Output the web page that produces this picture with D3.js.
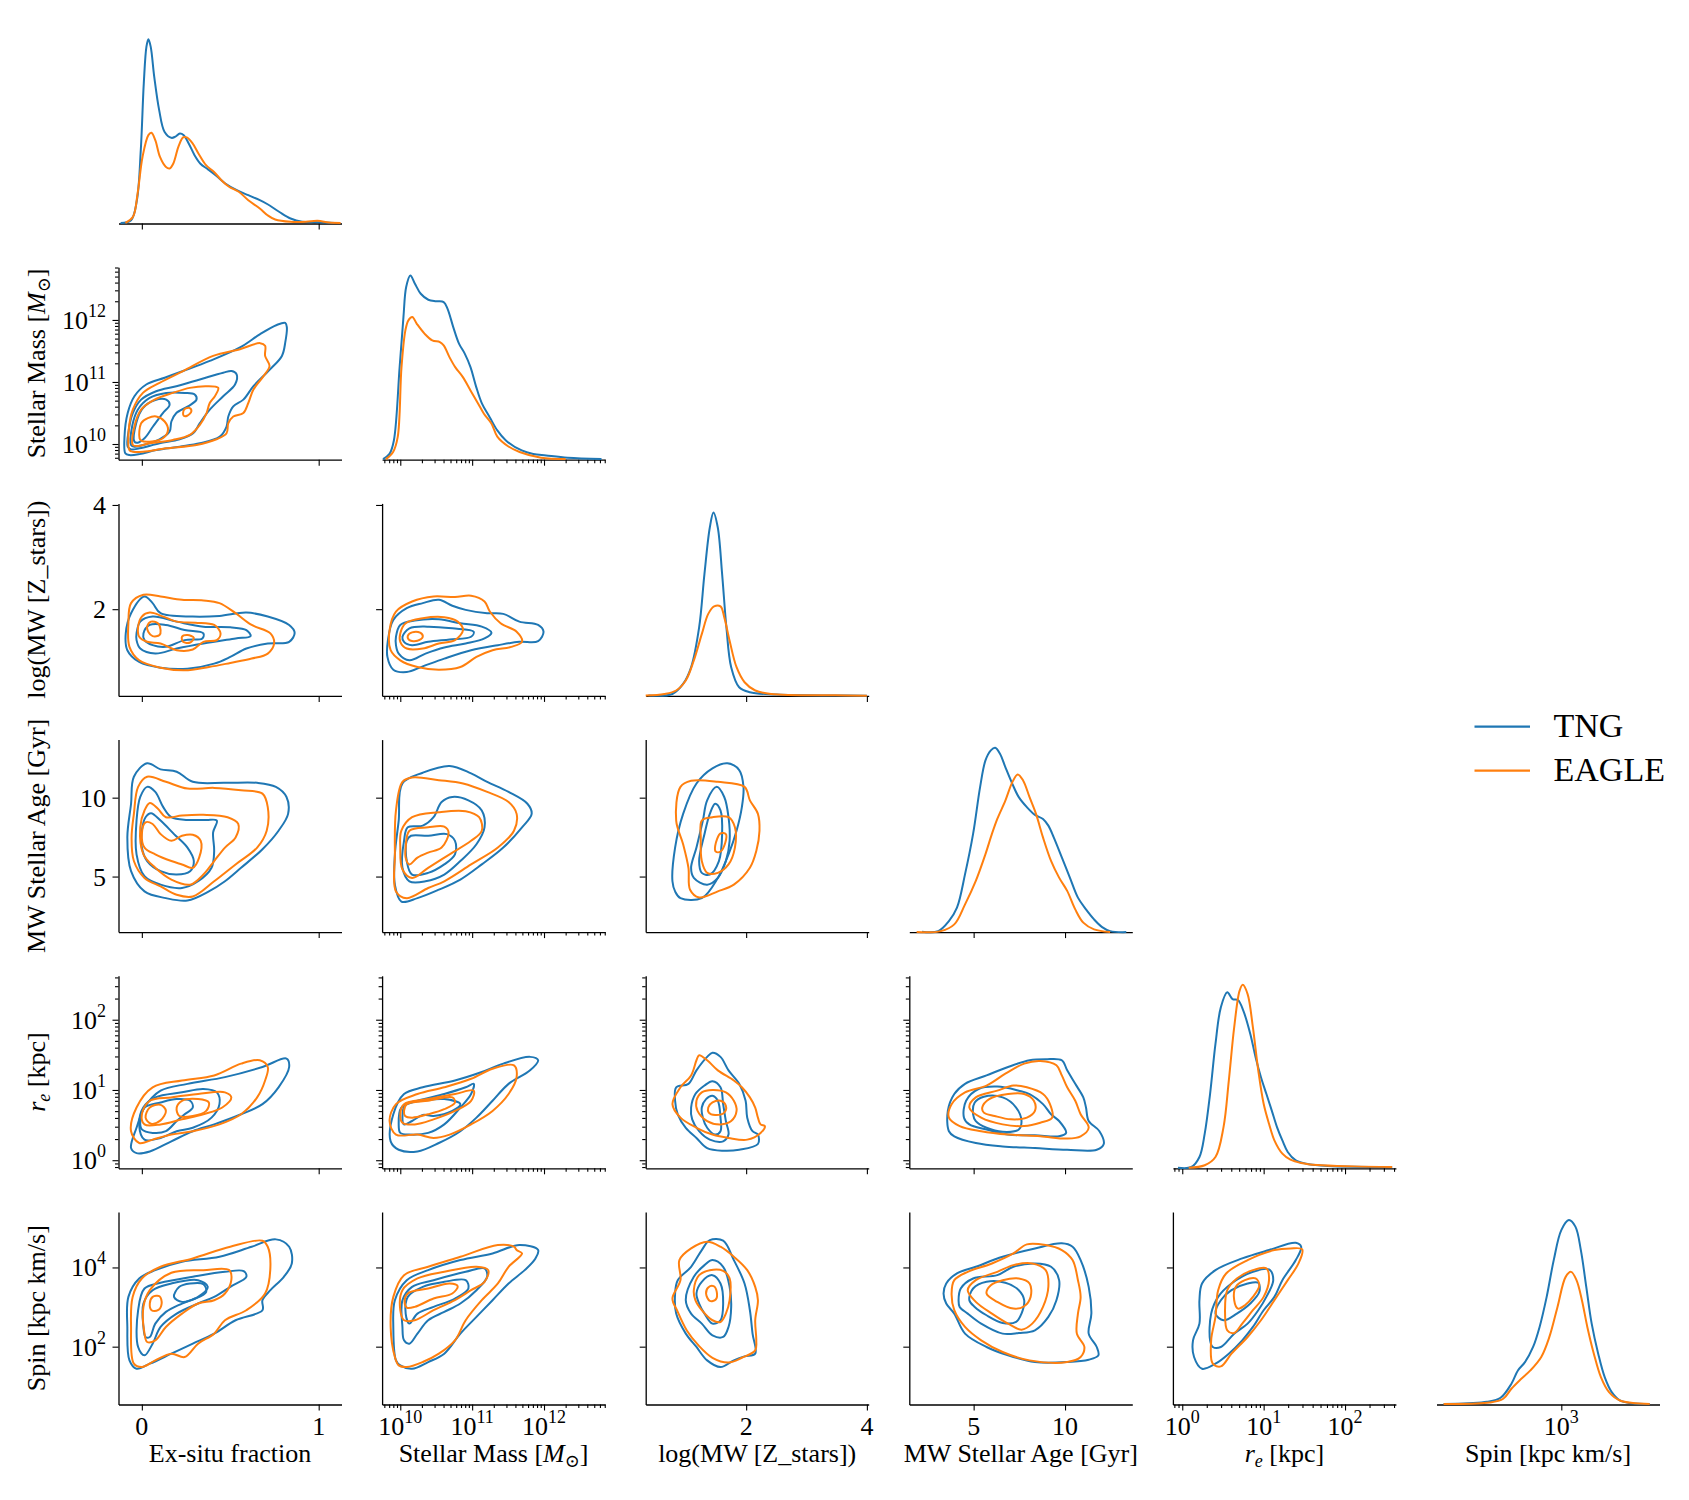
<!DOCTYPE html>
<html>
<head>
<meta charset="utf-8">
<script src="https://cdn.jsdelivr.net/npm/d3@7"></script>
<style>
  body { margin: 0; background: #fff; }
  svg text { font-family: "Liberation Serif", "DejaVu Serif", serif; fill: #000; }
</style>
</head>
<body>
<svg id="corner" width="1689" height="1500"></svg>
<script>
// Variables on the corner plot, in order (log variables are kept in dex)
const varLabels = ['Ex-situ fraction', 'Stellar Mass', 'log(MW [Z_stars])', 'MW Stellar Age [Gyr]', 'r_e [kpc]', 'Spin [kpc km/s]'];
const varIsLog = [false, true, false, false, true, true];
const varDomains = [[-0.132, 1.129], [9.747, 12.85], [0.336, 4.03], [1.48, 13.68], [-0.115, 2.625], [0.54, 5.4]];
const varMajorTicks = [[0, 1], [10, 11, 12], [2, 4], [5, 10], [0, 1, 2], [2, 4]];
const varMinorTicks = [false, true, false, false, true, false];
const spinDiagDomain = [0.28, 5.14];
const spinDiagTicks = [3];
const seriesNames = ['TNG', 'EAGLE'];

// Diagonal KDEs: [value, density as fraction of panel height]
const exsDiagTNG = [[-0.12,0.003],[-0.061,0.017],[-0.028,0.121],[-0.006,0.381],[0.011,0.728],[0.026,0.919],[0.037,0.957],[0.05,0.919],[0.07,0.763],[0.098,0.589],[0.128,0.477],[0.167,0.445],[0.189,0.451],[0.215,0.468],[0.237,0.459],[0.265,0.416],[0.298,0.355],[0.33,0.312],[0.374,0.281],[0.417,0.251],[0.472,0.208],[0.537,0.173],[0.602,0.147],[0.667,0.121],[0.711,0.1],[0.776,0.061],[0.841,0.026],[0.907,0.009],[0.993,0.007],[1.09,0.003]];
const exsDiagEAGLE = [[-0.093,0.003],[-0.05,0.035],[-0.024,0.156],[0.004,0.347],[0.037,0.459],[0.054,0.471],[0.076,0.433],[0.102,0.347],[0.135,0.295],[0.157,0.286],[0.178,0.312],[0.207,0.399],[0.233,0.447],[0.254,0.447],[0.287,0.416],[0.32,0.364],[0.363,0.303],[0.407,0.269],[0.45,0.225],[0.493,0.191],[0.548,0.165],[0.602,0.121],[0.667,0.078],[0.711,0.043],[0.754,0.021],[0.841,0.009],[0.928,0.009],[0.993,0.014],[1.059,0.005],[1.124,0.003]];
const massDiagTNG = [[9.76,0.003],[9.85,0.03],[9.911,0.1],[9.991,0.481],[10.044,0.741],[10.082,0.897],[10.14,0.957],[10.204,0.914],[10.285,0.862],[10.39,0.831],[10.498,0.823],[10.604,0.819],[10.658,0.784],[10.737,0.689],[10.817,0.603],[10.897,0.551],[10.977,0.481],[11.057,0.377],[11.137,0.291],[11.244,0.221],[11.35,0.152],[11.47,0.1],[11.69,0.048],[11.85,0.03],[12.03,0.022],[12.33,0.01],[12.8,0.003]];
const massDiagEAGLE = [[9.8,0.003],[9.9,0.04],[9.964,0.117],[10.017,0.481],[10.071,0.672],[10.113,0.724],[10.167,0.741],[10.23,0.706],[10.337,0.655],[10.445,0.62],[10.551,0.611],[10.604,0.594],[10.684,0.533],[10.764,0.481],[10.871,0.429],[10.977,0.36],[11.084,0.291],[11.164,0.239],[11.27,0.187],[11.35,0.12],[11.5,0.07],[11.66,0.04],[11.96,0.01],[12.3,0.003]];
const zmetDiagTNG = [[0.38,0.002],[0.778,0.01],[0.955,0.062],[1.088,0.149],[1.221,0.356],[1.309,0.633],[1.398,0.875],[1.459,0.953],[1.53,0.875],[1.602,0.633],[1.673,0.356],[1.752,0.149],[1.884,0.045],[2.062,0.019],[2.504,0.007],[3.479,0.002],[4.0,0.001]];
const zmetDiagEAGLE = [[0.336,0.002],[0.646,0.01],[0.84,0.028],[1.0,0.08],[1.132,0.183],[1.266,0.322],[1.372,0.426],[1.469,0.465],[1.575,0.465],[1.638,0.408],[1.726,0.287],[1.841,0.149],[1.974,0.071],[2.151,0.028],[2.416,0.01],[3.479,0.003],[4.0,0.001]];
const ageDiagTNG = [[2.176,0.002],[3.06,0.005],[3.647,0.057],[4.088,0.127],[4.53,0.301],[4.97,0.51],[5.353,0.753],[5.647,0.892],[5.941,0.944],[6.176,0.958],[6.441,0.927],[6.735,0.857],[7.118,0.77],[7.47,0.701],[7.912,0.649],[8.353,0.609],[8.794,0.588],[9.088,0.553],[9.382,0.492],[9.824,0.388],[10.265,0.283],[10.706,0.179],[11.147,0.118],[11.588,0.066],[12.03,0.026],[12.47,0.005],[13.35,0.0]];
const ageDiagEAGLE = [[1.882,0.0],[3.206,0.005],[3.941,0.04],[4.53,0.144],[5.118,0.266],[5.647,0.405],[6.0,0.51],[6.294,0.588],[6.735,0.683],[7.118,0.779],[7.412,0.819],[7.706,0.788],[8.059,0.701],[8.412,0.614],[8.794,0.492],[9.235,0.37],[9.676,0.283],[10.118,0.214],[10.559,0.118],[11.0,0.049],[11.588,0.014],[12.47,0.0]];
const reDiagTNG = [[-0.053,0.003],[0.112,0.007],[0.211,0.059],[0.276,0.18],[0.342,0.387],[0.408,0.646],[0.474,0.836],[0.553,0.914],[0.618,0.879],[0.684,0.874],[0.75,0.819],[0.836,0.698],[0.901,0.577],[0.967,0.473],[1.033,0.387],[1.099,0.301],[1.164,0.214],[1.23,0.145],[1.296,0.085],[1.395,0.041],[1.526,0.024],[1.789,0.012],[2.579,0.007]];
const reDiagEAGLE = [[0.079,0.003],[0.276,0.016],[0.408,0.059],[0.507,0.214],[0.572,0.456],[0.638,0.732],[0.704,0.922],[0.743,0.953],[0.803,0.905],[0.868,0.732],[0.934,0.508],[1.0,0.335],[1.066,0.231],[1.132,0.145],[1.23,0.076],[1.329,0.045],[1.461,0.028],[1.658,0.017],[2.118,0.01],[2.579,0.007]];
const spinDiagTNG = [[0.435,0.003],[0.967,0.007],[1.381,0.014],[1.676,0.035],[1.913,0.108],[2.054,0.177],[2.208,0.22],[2.385,0.299],[2.527,0.403],[2.681,0.559],[2.835,0.75],[3.0,0.906],[3.165,0.958],[3.307,0.924],[3.426,0.802],[3.544,0.611],[3.662,0.42],[3.804,0.264],[3.946,0.142],[4.099,0.064],[4.277,0.021],[4.513,0.007],[4.927,0.003]];
const spinDiagEAGLE = [[0.435,0.003],[1.44,0.01],[1.735,0.03],[1.913,0.082],[2.09,0.125],[2.326,0.177],[2.563,0.247],[2.74,0.351],[2.917,0.507],[3.095,0.663],[3.213,0.689],[3.331,0.646],[3.449,0.542],[3.567,0.403],[3.709,0.264],[3.863,0.142],[4.04,0.064],[4.277,0.021],[4.927,0.003]];

// KDE contour lines for each pair: list of closed rings of [x value, y value]
const exsMassTNG = [
  [[-0.093,9.848],[-0.098,10.119],[-0.08,10.499],[-0.042,10.77],[0.025,10.959],[0.129,11.068],[0.233,11.176],[0.384,11.339],[0.555,11.556],[0.669,11.772],[0.763,11.919],[0.811,11.951],[0.82,11.881],[0.811,11.637],[0.792,11.42],[0.725,11.203],[0.631,10.932],[0.574,10.715],[0.517,10.607],[0.489,10.444],[0.479,10.282],[0.441,10.119],[0.328,10.011],[0.214,9.957],[0.081,9.902],[-0.013,9.837],[-0.07,9.821]],
  [[-0.08,9.957],[-0.074,10.228],[-0.051,10.499],[-0.004,10.715],[0.081,10.851],[0.195,10.932],[0.328,11.041],[0.46,11.149],[0.508,11.176],[0.536,11.122],[0.527,10.959],[0.46,10.77],[0.384,10.553],[0.328,10.336],[0.29,10.173],[0.214,10.076],[0.1,10.011],[-0.013,9.93],[-0.061,9.913]],
  [[-0.061,9.984],[-0.055,10.282],[-0.023,10.553],[0.044,10.743],[0.138,10.824],[0.242,10.824],[0.299,10.797],[0.309,10.715],[0.261,10.607],[0.195,10.499],[0.167,10.363],[0.157,10.201],[0.1,10.076],[0.006,9.984],[-0.042,9.957]],
  [[-0.042,10.038],[-0.032,10.336],[0.006,10.58],[0.072,10.705],[0.138,10.715],[0.157,10.634],[0.119,10.499],[0.063,10.282],[0.015,10.092],[-0.023,10.022]]
];
const exsMassEAGLE = [
  [[-0.07,9.902],[-0.074,10.228],[-0.051,10.553],[0.006,10.824],[0.1,10.986],[0.233,11.176],[0.403,11.42],[0.555,11.528],[0.669,11.626],[0.697,11.583],[0.697,11.42],[0.722,11.257],[0.688,11.095],[0.631,10.878],[0.602,10.661],[0.574,10.499],[0.517,10.444],[0.489,10.336],[0.479,10.173],[0.422,10.076],[0.309,9.984],[0.138,9.93],[0.006,9.875],[-0.051,9.875]],
  [[-0.051,9.984],[-0.042,10.282],[-0.004,10.553],[0.072,10.715],[0.176,10.824],[0.271,10.905],[0.366,10.932],[0.432,10.905],[0.413,10.77],[0.384,10.661],[0.366,10.499],[0.328,10.309],[0.271,10.146],[0.176,10.065],[0.044,10.011],[-0.023,9.967]],
  [[-0.013,10.092],[-0.004,10.336],[0.034,10.417],[0.081,10.444],[0.129,10.363],[0.148,10.228],[0.119,10.092],[0.044,10.038],[-0.004,10.054]],
  [[0.233,10.499],[0.242,10.564],[0.271,10.58],[0.28,10.526],[0.256,10.455],[0.237,10.455]]
];
const exsZmetTNG = [
  [[-0.091,1.535],[-0.061,1.923],[0.015,2.245],[0.061,2.116],[0.106,1.923],[0.288,1.858],[0.439,1.871],[0.591,1.935],[0.712,1.858],[0.833,1.697],[0.864,1.548],[0.833,1.374],[0.712,1.342],[0.591,1.245],[0.5,1.084],[0.409,0.955],[0.258,0.858],[0.106,0.877],[-0.015,0.987],[-0.082,1.213]],
  [[-0.03,1.535],[-0.009,1.761],[0.061,1.858],[0.197,1.761],[0.348,1.665],[0.5,1.652],[0.591,1.6],[0.615,1.484],[0.53,1.439],[0.348,1.342],[0.197,1.245],[0.076,1.148],[-0.009,1.245],[-0.03,1.406]],
  [[0.009,1.535],[0.045,1.697],[0.136,1.697],[0.242,1.6],[0.348,1.535],[0.342,1.439],[0.242,1.406],[0.136,1.277],[0.061,1.31],[0.015,1.406]]
];
const exsZmetEAGLE = [
  [[-0.061,2.116],[0.009,2.277],[0.106,2.245],[0.227,2.181],[0.348,2.168],[0.439,2.116],[0.53,1.923],[0.621,1.697],[0.727,1.535],[0.748,1.342],[0.712,1.148],[0.621,1.052],[0.5,0.968],[0.379,0.89],[0.242,0.826],[0.106,0.877],[-0.015,1.019],[-0.07,1.277],[-0.076,1.729]],
  [[-0.021,1.665],[0,1.858],[0.045,1.935],[0.121,1.858],[0.197,1.761],[0.303,1.742],[0.409,1.697],[0.445,1.535],[0.424,1.406],[0.348,1.374],[0.288,1.226],[0.197,1.213],[0.106,1.342],[0.03,1.374],[-0.015,1.471]],
  [[0.03,1.665],[0.052,1.761],[0.091,1.729],[0.106,1.6],[0.1,1.503],[0.061,1.484],[0.036,1.568]],
  [[0.227,1.471],[0.258,1.503],[0.294,1.452],[0.273,1.361],[0.233,1.374]]
];
const massZmetTNG = [
  [[9.828,1.406],[9.903,1.794],[10.09,2.019],[10.313,2.116],[10.537,2.181],[10.724,2.065],[10.91,1.987],[11.209,1.923],[11.433,1.91],[11.657,1.761],[11.918,1.697],[11.993,1.568],[11.918,1.387],[11.657,1.374],[11.358,1.31],[10.985,1.213],[10.612,1.052],[10.313,0.903],[10.09,0.794],[9.903,0.839],[9.821,1.084]],
  [[9.94,1.471],[10.0,1.697],[10.201,1.781],[10.537,1.806],[10.836,1.729],[11.134,1.665],[11.269,1.548],[11.172,1.439],[10.91,1.342],[10.612,1.265],[10.351,1.148],[10.127,1.019],[9.978,1.148],[9.94,1.31]],
  [[10.03,1.471],[10.127,1.632],[10.388,1.665],[10.724,1.632],[11.022,1.568],[10.985,1.471],[10.687,1.419],[10.388,1.374],[10.164,1.31],[10.052,1.374]]
];
const massZmetEAGLE = [
  [[9.851,1.6],[9.94,1.955],[10.164,2.148],[10.463,2.245],[10.761,2.232],[10.985,2.258],[11.172,2.148],[11.246,1.955],[11.396,1.729],[11.619,1.568],[11.694,1.374],[11.545,1.277],[11.284,1.213],[11.06,1.084],[10.836,0.89],[10.537,0.839],[10.239,0.89],[10.0,1.019],[9.866,1.213]],
  [[10,1.535],[10.075,1.729],[10.313,1.826],[10.612,1.845],[10.799,1.761],[10.873,1.6],[10.761,1.406],[10.537,1.342],[10.313,1.245],[10.09,1.245],[10,1.374]],
  [[10.104,1.484],[10.164,1.555],[10.276,1.548],[10.313,1.471],[10.239,1.394],[10.127,1.406]]
];
const exsAgeTNG = [
  [[-0.061,9.615],[-0.045,11.325],[0.03,12.179],[0.106,11.795],[0.197,11.645],[0.288,11.004],[0.47,10.94],[0.652,10.94],[0.758,10.684],[0.818,10.043],[0.827,8.974],[0.773,7.906],[0.682,6.731],[0.561,5.556],[0.47,4.701],[0.379,4.06],[0.258,3.483],[0.136,3.632],[0.015,4.06],[-0.061,5.342],[-0.082,7.479]],
  [[-0.03,8.547],[-0.009,10.043],[0.03,10.684],[0.076,10.363],[0.121,9.402],[0.167,8.761],[0.258,8.59],[0.364,8.59],[0.424,8.547],[0.403,7.799],[0.409,6.624],[0.394,5.556],[0.318,4.701],[0.227,4.274],[0.106,4.487],[0.015,5.021],[-0.03,6.41]],
  [[0,7.906],[0.021,8.761],[0.052,9.017],[0.106,8.547],[0.182,7.692],[0.258,6.838],[0.294,5.983],[0.273,5.342],[0.197,5.128],[0.106,5.342],[0.03,5.983],[0,6.838]]
];
const exsAgeEAGLE = [
  [[-0.045,8.974],[-0.021,10.684],[0.03,11.325],[0.136,11.004],[0.258,10.577],[0.409,10.62],[0.561,10.47],[0.682,10.256],[0.712,9.402],[0.706,7.906],[0.652,6.838],[0.53,5.769],[0.409,4.701],[0.288,3.739],[0.197,3.846],[0.106,4.38],[0.015,4.915],[-0.045,5.983],[-0.058,7.479]],
  [[-0.009,8.12],[0.015,9.188],[0.045,9.658],[0.091,9.295],[0.136,8.761],[0.227,8.868],[0.348,8.91],[0.485,8.761],[0.545,8.333],[0.53,7.479],[0.47,6.838],[0.409,5.983],[0.348,5.128],[0.273,4.487],[0.167,4.808],[0.076,5.556],[0.009,6.41]],
  [[0,7.692],[0.021,8.44],[0.061,8.333],[0.106,7.692],[0.167,7.265],[0.227,7.585],[0.288,7.65],[0.333,7.265],[0.324,6.197],[0.288,5.556],[0.227,5.769],[0.167,5.983],[0.076,6.41],[0.015,6.838]]
];
const massAgeTNG = [
  [[9.978,8.547],[10.03,10.897],[10.313,11.581],[10.687,12.009],[10.985,11.538],[11.209,11.004],[11.507,10.363],[11.769,9.615],[11.828,8.974],[11.694,8.12],[11.433,6.838],[11.134,5.769],[10.836,4.808],[10.537,4.167],[10.239,3.632],[10.015,3.419],[9.925,4.487],[9.925,6.41]],
  [[10.052,7.265],[10.104,8.12],[10.313,8.226],[10.463,8.761],[10.575,9.722],[10.724,10.043],[10.948,9.829],[11.134,9.188],[11.172,8.12],[11.06,7.051],[10.836,5.983],[10.612,5.128],[10.351,4.701],[10.127,4.701],[10.03,5.556]],
  [[10.09,7.265],[10.149,7.585],[10.388,7.585],[10.649,7.692],[10.761,7.265],[10.761,6.41],[10.612,5.769],[10.388,5.235],[10.164,5.128],[10.09,5.983]]
];
const massAgeEAGLE = [
  [[9.94,9.188],[10.03,11.004],[10.164,11.282],[10.537,11.111],[10.873,10.897],[11.209,10.363],[11.507,9.722],[11.619,8.974],[11.582,7.906],[11.358,6.838],[10.985,5.769],[10.612,4.701],[10.388,4.274],[10.09,3.632],[9.94,4.06],[9.925,6.41]],
  [[10.015,7.906],[10.164,8.761],[10.537,9.081],[10.91,9.145],[11.097,8.761],[11.134,7.906],[10.985,7.265],[10.687,6.41],[10.388,5.556],[10.164,4.915],[10.03,5.449],[10.0,6.838]],
  [[10.075,6.838],[10.127,7.906],[10.388,8.12],[10.612,8.162],[10.672,7.799],[10.575,6.838],[10.388,6.517],[10.239,6.197],[10.127,5.769],[10.075,6.197]]
];
const zmetAgeTNG = [
  [[0.779,4.701],[0.823,6.838],[0.956,8.974],[1.177,10.897],[1.442,11.859],[1.69,12.179],[1.885,11.752],[1.956,10.684],[1.929,9.402],[1.841,7.906],[1.708,6.41],[1.531,4.915],[1.265,3.632],[0.912,3.632],[0.823,4.06]],
  [[1.088,5.556],[1.177,6.838],[1.283,8.547],[1.354,9.829],[1.513,10.684],[1.637,10.043],[1.708,8.761],[1.726,7.265],[1.664,5.983],[1.531,4.915],[1.354,4.487],[1.133,4.915]],
  [[1.221,5.983],[1.31,7.692],[1.398,8.974],[1.487,9.615],[1.575,9.188],[1.602,7.692],[1.549,5.983],[1.398,5.128],[1.265,5.235]]
];
const zmetAgeEAGLE = [
  [[0.912,10.684],[1.088,11.068],[1.531,11.004],[1.973,10.684],[2.062,9.829],[2.195,8.974],[2.221,7.906],[2.168,6.624],[2.062,5.556],[1.796,4.487],[1.531,4.06],[1.221,3.675],[1.071,4.167],[1.044,5.556],[0.956,7.051],[0.841,8.547]],
  [[1.265,8.547],[1.442,8.761],[1.708,8.761],[1.814,8.12],[1.814,6.838],[1.708,5.769],[1.531,5.235],[1.354,5.235],[1.265,5.983],[1.248,7.479]],
  [[1.487,6.944],[1.575,7.735],[1.664,7.692],[1.655,7.158],[1.575,6.581],[1.496,6.581]]
];
const exsReTNG = [
  [[-0.061,0.173],[-0.03,0.462],[0.015,0.75],[0.106,0.99],[0.258,1.087],[0.47,1.183],[0.682,1.327],[0.818,1.447],[0.833,1.327],[0.773,1.038],[0.682,0.798],[0.561,0.654],[0.409,0.51],[0.288,0.413],[0.167,0.269],[0.045,0.125],[-0.03,0.101]],
  [[-0.015,0.5],[0.008,0.75],[0.076,0.894],[0.227,0.966],[0.348,1.014],[0.424,0.966],[0.439,0.798],[0.394,0.606],[0.288,0.462],[0.197,0.413],[0.106,0.317],[0.015,0.293]],
  [[-0.009,0.558],[0.015,0.75],[0.106,0.822],[0.197,0.87],[0.273,0.846],[0.288,0.75],[0.242,0.654],[0.197,0.558],[0.136,0.413],[0.061,0.389],[0,0.438]]
];
const exsReEAGLE = [
  [[-0.061,0.413],[-0.03,0.75],[0.061,1.038],[0.227,1.135],[0.409,1.207],[0.561,1.375],[0.667,1.423],[0.712,1.327],[0.697,1.135],[0.652,0.894],[0.561,0.654],[0.439,0.51],[0.288,0.413],[0.167,0.365],[0.061,0.293],[-0.015,0.245]],
  [[0,0.654],[0.045,0.846],[0.167,0.894],[0.318,0.942],[0.47,0.966],[0.506,0.894],[0.455,0.75],[0.348,0.654],[0.227,0.582],[0.106,0.51],[0.015,0.51]],
  [[0.021,0.606],[0.045,0.75],[0.106,0.788],[0.136,0.702],[0.106,0.567],[0.052,0.519]],
  [[0.197,0.75],[0.227,0.846],[0.318,0.87],[0.379,0.822],[0.364,0.702],[0.288,0.63],[0.212,0.63]]
];
const massReTNG = [
  [[9.866,0.269],[9.903,0.654],[10.052,0.942],[10.313,1.038],[10.761,1.135],[11.134,1.255],[11.433,1.375],[11.806,1.471],[11.918,1.423],[11.806,1.279],[11.507,1.087],[11.284,0.846],[11.06,0.606],[10.836,0.413],[10.537,0.245],[10.239,0.125],[9.978,0.149]],
  [[9.978,0.51],[10.015,0.75],[10.239,0.846],[10.612,0.942],[10.91,1.038],[11.022,1.087],[10.985,0.942],[10.836,0.75],[10.612,0.51],[10.388,0.389],[10.127,0.365],[10.0,0.389]],
  [[10.03,0.606],[10.075,0.798],[10.313,0.846],[10.612,0.87],[10.836,0.798],[10.724,0.702],[10.463,0.63],[10.313,0.644],[10.164,0.558],[10.052,0.51]]
];
const massReEAGLE = [
  [[9.851,0.558],[9.94,0.798],[10.239,0.942],[10.612,1.038],[10.985,1.159],[11.284,1.303],[11.582,1.351],[11.619,1.183],[11.507,0.942],[11.284,0.702],[10.985,0.51],[10.687,0.365],[10.463,0.317],[10.239,0.365],[9.94,0.365]],
  [[10.0,0.654],[10.052,0.798],[10.388,0.87],[10.761,0.942],[11.022,0.99],[10.985,0.846],[10.761,0.702],[10.463,0.582],[10.201,0.51],[10.03,0.534]],
  [[10.052,0.702],[10.09,0.798],[10.388,0.846],[10.724,0.894],[10.761,0.822],[10.612,0.726],[10.388,0.654],[10.164,0.606],[10.067,0.63]]
];
const zmetReTNG = [
  [[0.823,0.846],[0.841,1.038],[1.044,1.087],[1.177,1.279],[1.354,1.471],[1.442,1.529],[1.575,1.471],[1.708,1.279],[1.885,1.087],[1.991,0.846],[2.018,0.606],[2.106,0.413],[2.195,0.365],[2.195,0.231],[1.885,0.149],[1.619,0.135],[1.354,0.173],[1.177,0.317],[1.0,0.462],[0.867,0.654]],
  [[1.088,0.75],[1.159,0.942],[1.31,1.063],[1.442,1.125],[1.575,1.038],[1.619,0.798],[1.664,0.558],[1.708,0.365],[1.619,0.269],[1.398,0.293],[1.221,0.413],[1.106,0.582]],
  [[1.265,0.75],[1.336,0.87],[1.442,0.918],[1.531,0.846],[1.575,0.606],[1.575,0.413],[1.487,0.365],[1.354,0.462],[1.283,0.606]]
];
const zmetReEAGLE = [
  [[0.779,0.798],[0.912,1.038],[1.088,1.207],[1.177,1.423],[1.221,1.495],[1.354,1.423],[1.531,1.279],[1.796,1.135],[1.929,1.038],[2.062,0.894],[2.15,0.75],[2.195,0.606],[2.239,0.51],[2.31,0.486],[2.239,0.389],[2.018,0.293],[1.708,0.317],[1.442,0.365],[1.177,0.462],[0.912,0.606]],
  [[1.177,0.846],[1.265,0.966],[1.442,1.0],[1.664,0.966],[1.796,0.846],[1.841,0.702],[1.752,0.558],[1.575,0.51],[1.354,0.558],[1.195,0.702]],
  [[1.372,0.75],[1.442,0.822],[1.575,0.846],[1.664,0.774],[1.637,0.678],[1.487,0.644],[1.381,0.678]]
];
const ageReTNG = [
  [[3.647,0.413],[3.588,0.702],[3.941,0.942],[4.529,1.087],[5.706,1.207],[6.882,1.327],[8.059,1.423],[8.941,1.438],[9.824,1.423],[10.118,1.279],[10.559,1.087],[11.0,0.894],[11.147,0.75],[11.294,0.558],[11.882,0.413],[12.118,0.231],[11.735,0.149],[10.118,0.149],[8.353,0.173],[6.588,0.197],[5.118,0.245],[3.941,0.341]],
  [[4.471,0.606],[4.588,0.846],[5.265,1.014],[6.294,1.048],[7.471,0.99],[8.059,0.942],[8.794,0.798],[9.235,0.654],[9.676,0.558],[10.059,0.389],[9.676,0.341],[8.353,0.356],[6.882,0.365],[5.706,0.438],[4.765,0.51]],
  [[4.971,0.654],[5.059,0.822],[5.559,0.904],[6.588,0.894],[7.324,0.75],[7.618,0.558],[7.471,0.438],[6.588,0.404],[5.706,0.462],[5.118,0.558]]
];
const ageReEAGLE = [
  [[3.647,0.606],[3.794,0.798],[4.529,0.966],[5.706,1.063],[6.735,1.231],[7.765,1.375],[8.647,1.413],[9.529,1.351],[9.824,1.207],[10.118,1.038],[10.559,0.846],[10.853,0.654],[11.294,0.462],[10.853,0.341],[10.118,0.308],[8.647,0.341],[6.882,0.365],[5.412,0.413],[4.235,0.486]],
  [[4.765,0.75],[5.118,0.894],[6.294,0.99],[7.176,1.063],[7.912,1.038],[8.794,0.942],[9.176,0.798],[9.294,0.606],[8.647,0.534],[7.765,0.486],[6.588,0.51],[5.412,0.606]],
  [[5.471,0.75],[5.853,0.87],[6.882,0.942],[7.765,0.942],[8.294,0.846],[8.353,0.702],[7.912,0.606],[7.029,0.582],[6.147,0.63],[5.559,0.678]]
];
const exsSpinTNG = [
  [[-0.07,1.654],[-0.082,2.498],[-0.076,3.257],[-0.015,3.722],[0.076,3.932],[0.227,4.143],[0.439,4.27],[0.621,4.523],[0.758,4.709],[0.833,4.523],[0.848,4.101],[0.803,3.764],[0.727,3.426],[0.682,3.173],[0.682,2.92],[0.53,2.667],[0.409,2.329],[0.288,2.076],[0.167,1.823],[0.045,1.57],[-0.03,1.443]],
  [[-0.021,1.992],[-0.021,2.92],[0.015,3.468],[0.106,3.612],[0.288,3.764],[0.47,3.89],[0.576,3.907],[0.591,3.764],[0.5,3.511],[0.409,3.257],[0.318,3.089],[0.197,2.835],[0.106,2.498],[0.061,2.076],[0.015,1.781]],
  [[0.009,2.498],[0.009,3.089],[0.061,3.426],[0.167,3.595],[0.318,3.679],[0.373,3.511],[0.318,3.257],[0.227,3.089],[0.136,2.878],[0.076,2.582],[0.045,2.245],[0.021,2.245]],
  [[0.182,3.257],[0.212,3.511],[0.273,3.595],[0.348,3.578],[0.364,3.384],[0.303,3.215],[0.227,3.131]]
];
const exsSpinEAGLE = [
  [[-0.045,1.57],[-0.061,2.498],[-0.052,3.257],[0,3.722],[0.106,4.017],[0.288,4.228],[0.5,4.523],[0.682,4.675],[0.712,4.523],[0.727,4.017],[0.697,3.342],[0.591,2.92],[0.47,2.667],[0.409,2.329],[0.318,2.076],[0.242,1.738],[0.167,1.823],[0.076,1.654],[0,1.485]],
  [[0.015,2.329],[0.009,3.004],[0.045,3.426],[0.167,3.865],[0.348,3.932],[0.494,3.932],[0.506,3.679],[0.47,3.342],[0.409,3.173],[0.318,3.089],[0.227,2.835],[0.136,2.498],[0.076,2.16],[0.03,2.118]],
  [[0.045,3.089],[0.061,3.257],[0.1,3.274],[0.112,3.089],[0.091,2.92],[0.055,2.92]]
];
const massSpinTNG = [
  [[9.94,1.654],[9.903,2.498],[9.925,3.173],[10.09,3.679],[10.388,3.932],[10.836,4.186],[11.284,4.354],[11.657,4.565],[11.918,4.439],[11.881,4.228],[11.731,3.932],[11.507,3.595],[11.284,3.173],[11.06,2.751],[10.836,2.329],[10.612,1.823],[10.388,1.612],[10.164,1.443],[10,1.527]],
  [[10.03,2.498],[10.03,3.173],[10.164,3.511],[10.463,3.679],[10.91,3.89],[11.172,3.975],[11.209,3.764],[11.06,3.426],[10.836,3.089],[10.612,2.878],[10.388,2.667],[10.239,2.329],[10.127,2.076],[10.052,2.16]],
  [[10.075,2.835],[10.104,3.257],[10.313,3.511],[10.612,3.637],[10.91,3.679],[10.948,3.468],[10.761,3.215],[10.463,3.004],[10.239,2.835],[10.127,2.582]]
];
const massSpinEAGLE = [
  [[9.925,1.738],[9.866,2.498],[9.903,3.257],[10.052,3.806],[10.388,4.017],[10.836,4.27],[11.358,4.565],[11.582,4.523],[11.619,4.439],[11.694,4.354],[11.507,4.017],[11.358,3.595],[11.134,3.173],[10.91,2.667],[10.761,2.16],[10.537,1.823],[10.313,1.612],[10.09,1.485],[9.978,1.527]],
  [[10,2.92],[10.03,3.426],[10.239,3.722],[10.612,3.89],[11.06,4.017],[11.224,3.932],[11.172,3.637],[10.985,3.426],[10.761,3.173],[10.463,2.92],[10.201,2.667],[10.052,2.667]],
  [[10.06,3.131],[10.104,3.342],[10.388,3.468],[10.687,3.595],[10.799,3.527],[10.724,3.342],[10.463,3.215],[10.201,3.004],[10.09,2.987]]
];
const zmetSpinTNG = [
  [[0.823,3.342],[0.867,3.679],[1.088,4.017],[1.265,4.439],[1.398,4.692],[1.619,4.675],[1.796,4.186],[1.973,3.595],[2.062,2.92],[2.106,2.329],[2.15,1.823],[1.973,1.755],[1.796,1.654],[1.575,1.485],[1.354,1.654],[1.177,1.992],[1.0,2.329],[0.841,2.835]],
  [[1.0,3.173],[1.133,3.764],[1.31,4.059],[1.442,4.186],[1.619,4.017],[1.726,3.511],[1.752,3.004],[1.708,2.498],[1.619,2.245],[1.442,2.287],[1.265,2.582],[1.088,2.835]],
  [[1.177,3.342],[1.265,3.637],[1.442,3.806],[1.575,3.595],[1.619,3.089],[1.575,2.667],[1.442,2.582],[1.31,2.835],[1.221,3.089]]
];
const zmetSpinEAGLE = [
  [[0.912,3.679],[0.894,4.186],[1.088,4.481],[1.354,4.65],[1.575,4.523],[1.796,4.27],[2.018,3.932],[2.15,3.511],[2.195,3.173],[2.15,2.667],[2.168,2.16],[2.15,1.907],[1.929,1.72],[1.708,1.6],[1.442,1.72],[1.2,2.05],[1.02,2.4],[0.86,2.9],[0.779,3.215]],
  [[1.133,3.426],[1.221,3.806],[1.398,3.932],[1.619,3.916],[1.726,3.722],[1.726,3.173],[1.664,2.835],[1.575,2.624],[1.442,2.667],[1.265,2.92],[1.159,3.173]],
  [[1.336,3.342],[1.372,3.494],[1.46,3.527],[1.513,3.384],[1.496,3.19],[1.398,3.156]]
];
const ageSpinTNG = [
  [[3.353,3.342],[3.5,3.595],[4.088,3.848],[5.118,4.017],[6.588,4.27],[8.353,4.481],[9.824,4.608],[10.412,4.523],[10.853,4.186],[11.294,3.511],[11.441,2.835],[11.294,2.329],[11.735,1.992],[11.824,1.781],[11.294,1.671],[10.118,1.612],[8.353,1.612],[6.882,1.781],[5.706,1.992],[4.529,2.329],[3.941,2.835],[3.5,3.089]],
  [[4.176,3.173],[4.294,3.468],[4.971,3.722],[6.294,3.806],[7.176,4.017],[8.353,4.101],[9.235,4.017],[9.676,3.679],[9.529,3.173],[9.088,2.751],[8.353,2.414],[7.471,2.346],[6.588,2.329],[5.412,2.582],[4.676,2.835],[4.235,3.004]],
  [[4.765,3.173],[4.971,3.468],[5.706,3.637],[6.735,3.612],[7.471,3.426],[7.765,3.173],[7.618,2.835],[7.324,2.624],[6.588,2.599],[5.706,2.793],[5.059,3.004]]
];
const ageSpinEAGLE = [
  [[3.794,3.342],[3.941,3.679],[4.676,3.89],[6.0,4.101],[7.176,4.354],[7.912,4.582],[8.941,4.565],[9.824,4.439],[10.412,4.186],[10.706,3.679],[10.853,3.257],[10.706,2.835],[10.647,2.329],[11.059,1.992],[10.853,1.738],[10.118,1.612],[8.059,1.654],[6.588,1.865],[5.412,2.16],[4.529,2.498],[3.941,2.92]],
  [[4.676,3.426],[5.118,3.679],[6.294,3.89],[7.176,4.059],[8.206,4.101],[8.941,3.932],[9.088,3.511],[8.794,3.004],[8.206,2.582],[7.618,2.43],[6.882,2.582],[6.0,2.835],[5.118,3.131]],
  [[5.706,3.342],[5.941,3.553],[6.588,3.679],[7.471,3.722],[8.059,3.595],[8.118,3.257],[7.765,3.021],[7.176,2.962],[6.294,3.131]]
];
const reSpinTNG = [
  [[0.145,1.738],[0.132,2.16],[0.211,2.582],[0.211,3.173],[0.243,3.595],[0.408,3.932],[0.737,4.228],[1.066,4.439],[1.395,4.624],[1.461,4.523],[1.395,4.186],[1.23,3.679],[1.132,3.257],[1.0,2.92],[0.868,2.498],[0.737,2.16],[0.572,1.823],[0.408,1.57],[0.243,1.443]],
  [[0.342,2.16],[0.355,2.835],[0.441,3.257],[0.605,3.595],[0.868,3.89],[1.066,3.949],[1.118,3.679],[1.033,3.257],[0.934,2.92],[0.803,2.582],[0.638,2.329],[0.474,1.992],[0.375,1.992]],
  [[0.408,2.835],[0.474,3.173],[0.605,3.426],[0.803,3.595],[0.934,3.612],[0.947,3.384],[0.836,3.089],[0.671,2.835],[0.507,2.667]]
];
const reSpinEAGLE = [
  [[0.375,1.57],[0.355,2.16],[0.408,2.751],[0.441,3.426],[0.539,3.848],[0.803,4.186],[1.132,4.439],[1.329,4.481],[1.474,4.456],[1.428,4.101],[1.296,3.679],[1.132,3.173],[0.967,2.667],[0.803,2.245],[0.605,1.823],[0.474,1.502]],
  [[0.526,2.835],[0.553,3.426],[0.671,3.722],[0.868,3.932],[1.033,3.975],[1.066,3.679],[1.0,3.257],[0.868,2.92],[0.737,2.582],[0.638,2.346],[0.553,2.414]],
  [[0.638,3.173],[0.658,3.511],[0.77,3.679],[0.901,3.722],[0.947,3.553],[0.868,3.257],[0.77,3.046],[0.684,2.962]]
];

// Which arrays go in which cell: [row, col, TNG, EAGLE]
const diagPanels = [
  [exsDiagTNG, exsDiagEAGLE], [massDiagTNG, massDiagEAGLE], [zmetDiagTNG, zmetDiagEAGLE],
  [ageDiagTNG, ageDiagEAGLE], [reDiagTNG, reDiagEAGLE], [spinDiagTNG, spinDiagEAGLE],
];
const pairPanels = [
  [1, 0, exsMassTNG, exsMassEAGLE],
  [2, 0, exsZmetTNG, exsZmetEAGLE], [2, 1, massZmetTNG, massZmetEAGLE],
  [3, 0, exsAgeTNG, exsAgeEAGLE], [3, 1, massAgeTNG, massAgeEAGLE], [3, 2, zmetAgeTNG, zmetAgeEAGLE],
  [4, 0, exsReTNG, exsReEAGLE], [4, 1, massReTNG, massReEAGLE], [4, 2, zmetReTNG, zmetReEAGLE], [4, 3, ageReTNG, ageReEAGLE],
  [5, 0, exsSpinTNG, exsSpinEAGLE], [5, 1, massSpinTNG, massSpinEAGLE], [5, 2, zmetSpinTNG, zmetSpinEAGLE],
  [5, 3, ageSpinTNG, ageSpinEAGLE], [5, 4, reSpinTNG, reSpinEAGLE],
];

// ---- layout ----
const colors = ['#1f77b4', '#ff7f0e'];
const left0 = 118.5, colStep = 263.6, cellW = 223;
const top0 = 31, rowStep = 236.2, cellH = 192.5;
const labelSize = 26, supSize = 18;
const cellX = c => left0 + c * colStep;
const cellY = r => top0 + r * rowStep;

const svg = d3.select('#corner');

const val = (i, v) => (varIsLog[i] ? Math.pow(10, v) : v);
const makeScale = (i, dom, range) => (varIsLog[i]
  ? d3.scaleLog().domain(dom.map(e => Math.pow(10, e))).range(range)
  : d3.scaleLinear().domain(dom).range(range));

const xScales = varDomains.map((dom, i) =>
  makeScale(i, i === 5 ? spinDiagDomain : dom, [cellX(i), cellX(i) + cellW]));
const yScales = varDomains.map((dom, i) =>
  makeScale(i, dom, [cellY(i) + cellH, cellY(i)]));

const majorsFor = (i, isDiagSpin) => (isDiagSpin ? spinDiagTicks : varMajorTicks[i]);

// Minor log ticks at 2..9 of each decade inside the domain
const minorsFor = (i, isDiagSpin) => {
  if (!varMinorTicks[i] || isDiagSpin) return [];
  const dom = varDomains[i];
  const out = [];
  for (let k = Math.floor(dom[0]); k <= Math.ceil(dom[1]); k++) {
    for (let m = 2; m <= 9; m++) {
      const e = k + Math.log10(m);
      if (e >= dom[0] && e <= dom[1]) out.push(Math.pow(10, e));
    }
  }
  return out;
};

const tickLabel = (sel, isLog, v) => {
  if (isLog) {
    sel.append('tspan').text('10');
    sel.append('tspan').attr('dy', -12).attr('font-size', supSize).text(v);
  } else {
    sel.text(v);
  }
};

const varLabel = (sel, i) => {
  if (i === 1) {
    sel.append('tspan').text('Stellar Mass [');
    sel.append('tspan').attr('font-style', 'italic').text('M');
    sel.append('tspan').attr('dy', 5).attr('font-size', supSize).attr('font-family', 'DejaVu Serif').text('\u2299');
    sel.append('tspan').attr('dy', -5).text(']');
  } else if (i === 4) {
    sel.append('tspan').attr('font-style', 'italic').text('r');
    sel.append('tspan').attr('dy', 5).attr('font-size', supSize).attr('font-style', 'italic').text('e');
    sel.append('tspan').attr('dy', -5).text(' [kpc]');
  } else {
    sel.text(varLabels[i]);
  }
};

const styleAxis = g => {
  g.selectAll('.domain').attr('stroke-width', 1.3);
  g.selectAll('.tick line').attr('stroke-width', 1.1);
  g.selectAll('.tick text').remove();
};

// Bottom axis of a cell; labels only on the last row
const drawXAxis = (r, c) => {
  const isDiagSpin = r === 5 && c === 5;
  const scale = xScales[c];
  const y = cellY(r) + cellH;
  const majors = majorsFor(c, isDiagSpin);
  const g = svg.append('g').attr('transform', `translate(0,${y})`);
  g.append('g').call(d3.axisBottom(scale).tickValues(minorsFor(c, isDiagSpin)).tickSize(3.5).tickSizeOuter(0))
    .call(styleAxis).select('.domain').remove();
  g.append('g').call(d3.axisBottom(scale).tickValues(majors.map(v => val(c, v))).tickSize(6).tickSizeOuter(0))
    .call(styleAxis);

  if (r === 5) {
    majors.forEach(v => {
      const t = g.append('text').attr('x', scale(val(c, v))).attr('y', 30)
        .attr('text-anchor', 'middle').attr('font-size', labelSize);
      tickLabel(t, varIsLog[c], v);
    });
    const lab = svg.append('text').attr('x', cellX(c) + cellW / 2).attr('y', 1462)
      .attr('text-anchor', 'middle').attr('font-size', labelSize);
    varLabel(lab, c);
  }
};

// Left axis of an off-diagonal cell; labels only on the first column
const drawYAxis = (r, c) => {
  const scale = yScales[r];
  const x = cellX(c);
  const g = svg.append('g').attr('transform', `translate(${x},0)`);
  g.append('g').call(d3.axisLeft(scale).tickValues(minorsFor(r, false)).tickSize(3.5).tickSizeOuter(0))
    .call(styleAxis).select('.domain').remove();
  g.append('g').call(d3.axisLeft(scale).tickValues(varMajorTicks[r].map(v => val(r, v))).tickSize(6).tickSizeOuter(0))
    .call(styleAxis);

  if (c === 0) {
    varMajorTicks[r].forEach(v => {
      const t = g.append('text').attr('x', -12.5).attr('y', scale(val(r, v)) + 9)
        .attr('text-anchor', 'end').attr('font-size', labelSize);
      tickLabel(t, varIsLog[r], v);
    });
    const cy = cellY(r) + cellH / 2;
    const lab = svg.append('text').attr('transform', `translate(45,${cy}) rotate(-90)`)
      .attr('text-anchor', 'middle').attr('font-size', labelSize);
    varLabel(lab, r);
  }
};

const drawDiag = i => {
  const dens = d3.scaleLinear().domain([0, 1]).range([cellY(i) + cellH, cellY(i)]);
  const line = d3.line()
    .x(d => xScales[i](val(i, d[0])))
    .y(d => dens(d[1]))
    .curve(d3.curveCatmullRom.alpha(0.5));
  diagPanels[i].forEach((series, k) => {
    svg.append('path').datum(series)
      .attr('d', line)
      .attr('fill', 'none')
      .attr('stroke', colors[k])
      .attr('stroke-width', 2)
      .attr('stroke-linejoin', 'round');
  });
};

const drawContours = (r, c, tng, eagle) => {
  const ring = d3.line()
    .x(d => xScales[c](val(c, d[0])))
    .y(d => yScales[r](val(r, d[1])))
    .curve(d3.curveCatmullRomClosed.alpha(0.5));
  [tng, eagle].forEach((levels, k) => {
    svg.append('g').selectAll('path').data(levels).join('path')
      .attr('d', ring)
      .attr('fill', 'none')
      .attr('stroke', colors[k])
      .attr('stroke-width', 2)
      .attr('stroke-linejoin', 'round');
  });
};

// ---- draw the lower triangle ----
for (let r = 0; r < 6; r++) {
  for (let c = 0; c <= r; c++) {
    drawXAxis(r, c);
    if (r === c) drawDiag(r);
    else drawYAxis(r, c);
  }
}
pairPanels.forEach(([r, c, tng, eagle]) => drawContours(r, c, tng, eagle));

// Legend
const legend = svg.append('g');
seriesNames.forEach((name, k) => {
  const y = 726.7 + k * 44;
  legend.append('line')
    .attr('x1', 1474.5).attr('x2', 1530).attr('y1', y).attr('y2', y)
    .attr('stroke', colors[k]).attr('stroke-width', 2.2);
  legend.append('text')
    .attr('x', 1553.5).attr('y', y + 10)
    .attr('font-size', 34)
    .text(name);
});
</script>
</body>
</html>
